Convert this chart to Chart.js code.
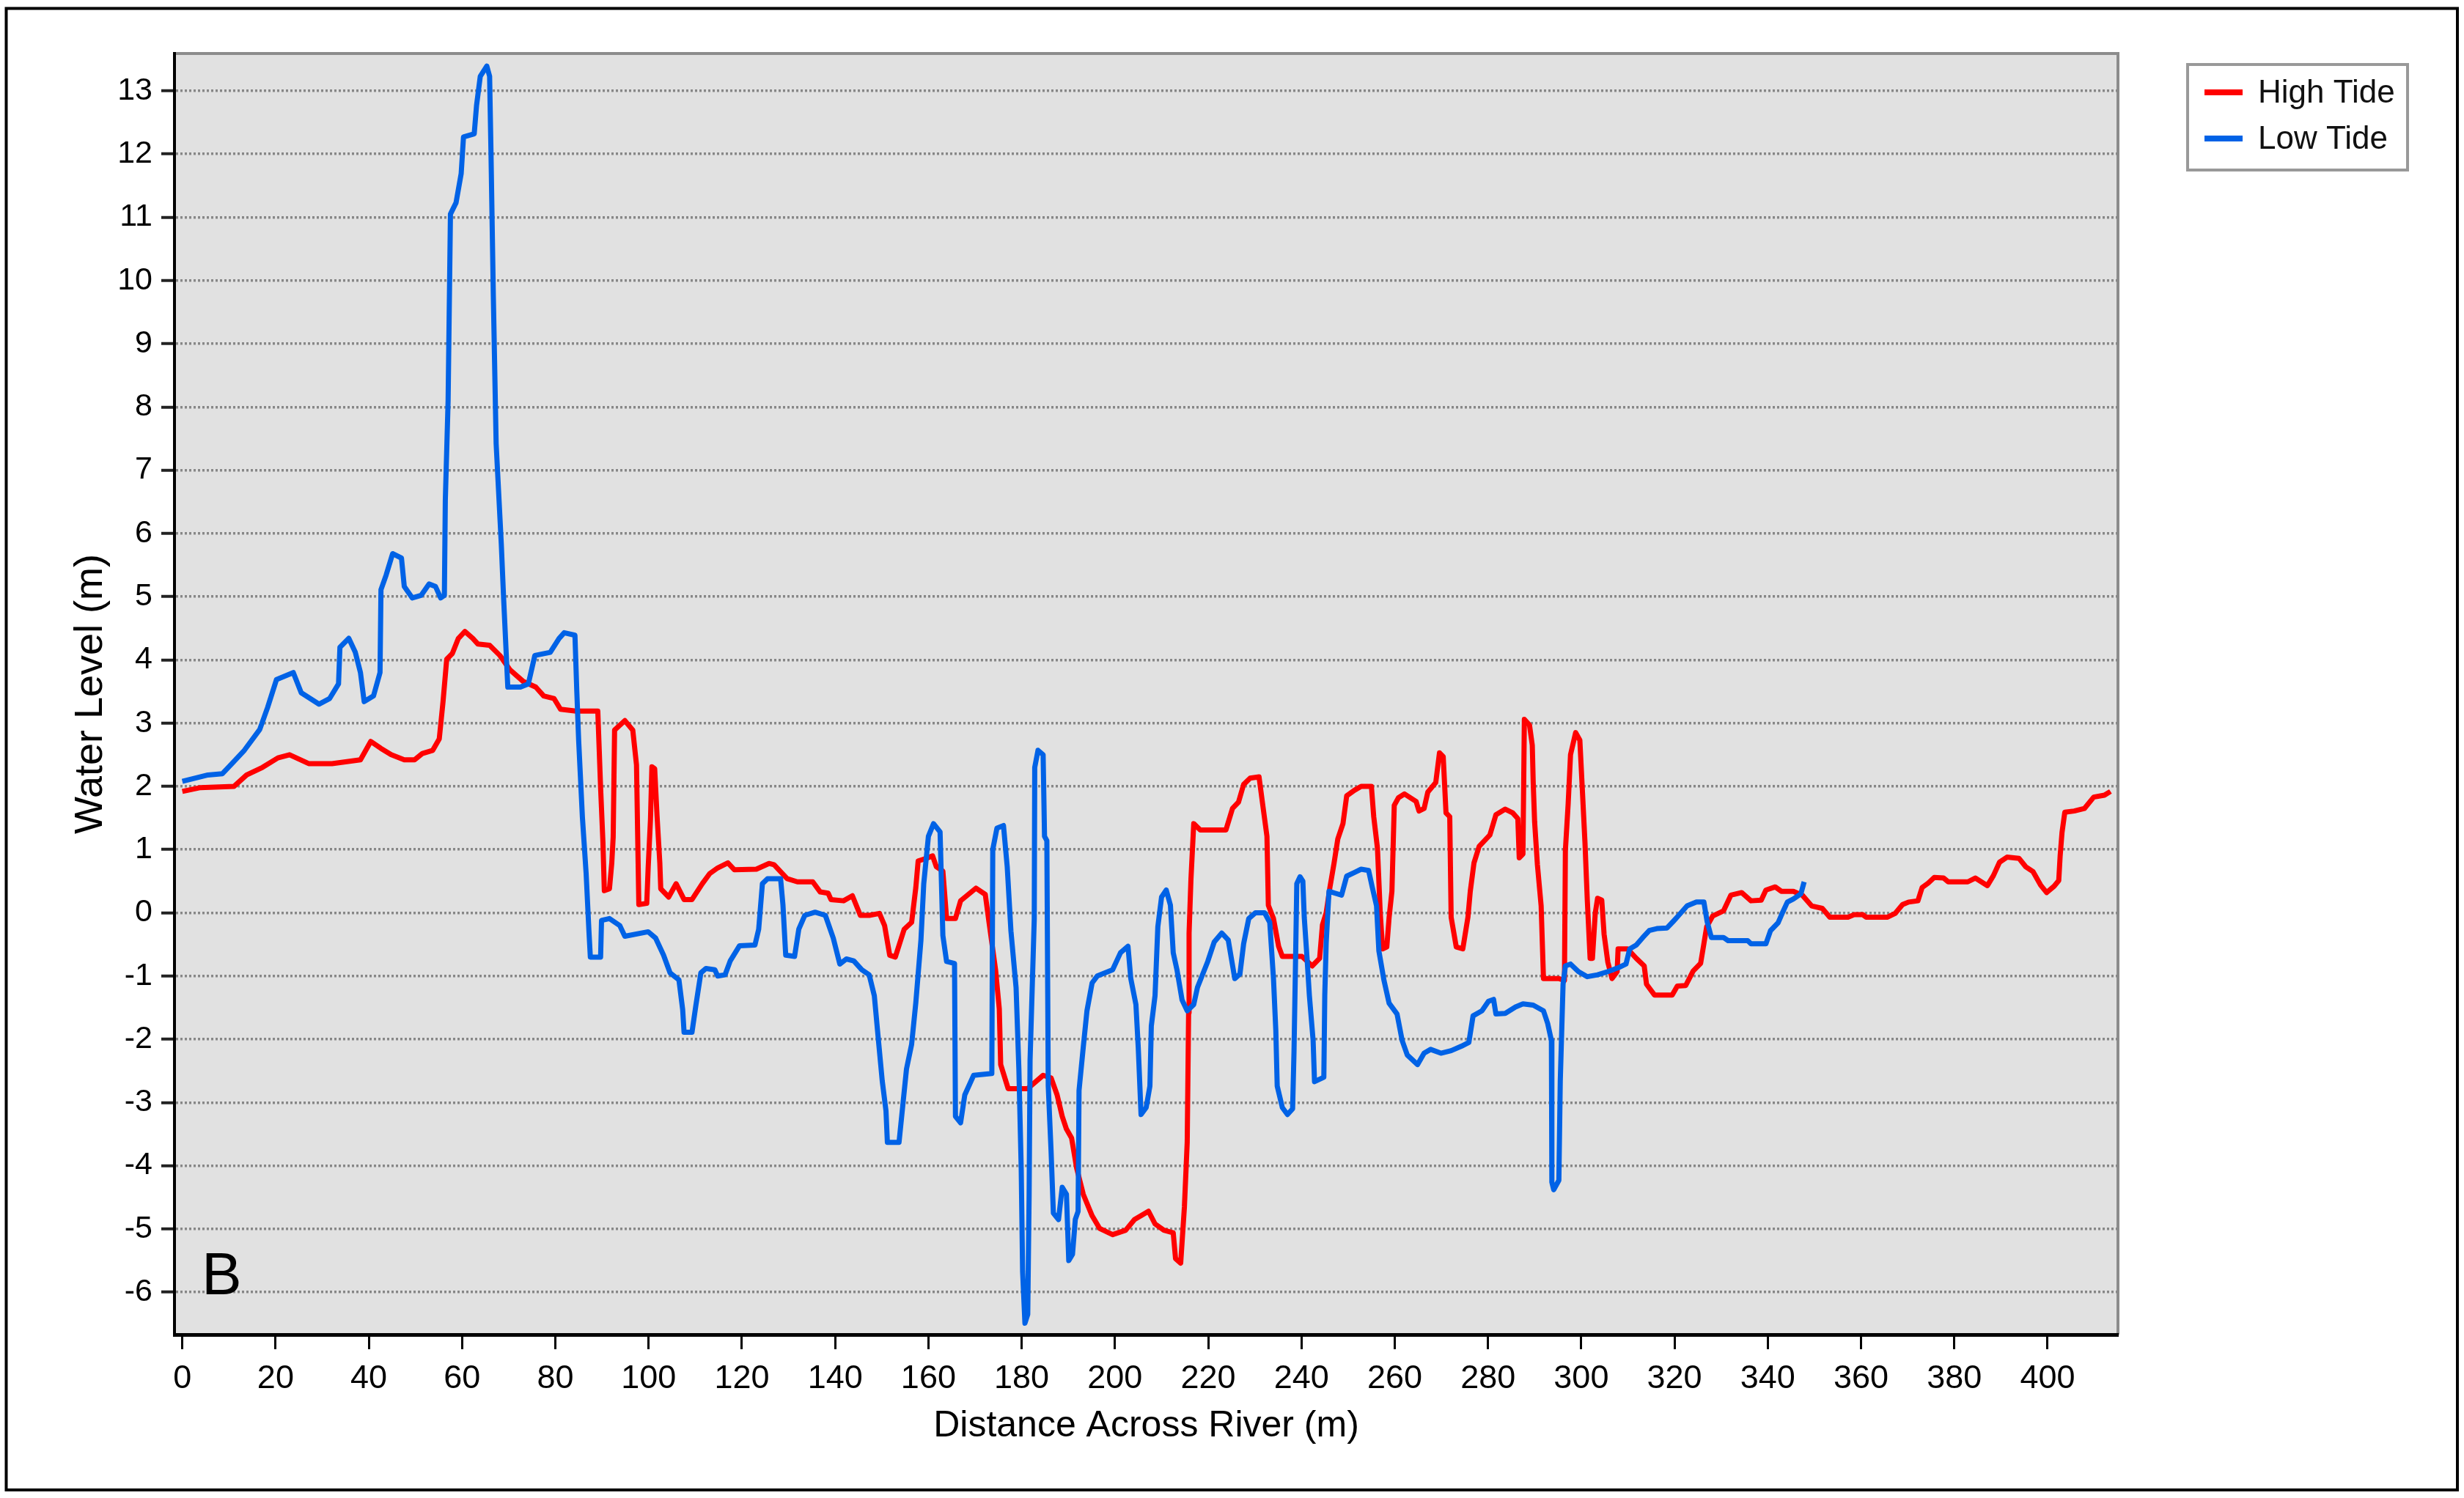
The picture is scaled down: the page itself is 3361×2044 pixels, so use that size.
<!DOCTYPE html>
<html>
<head>
<meta charset="utf-8">
<title>Water Level Across River</title>
<script src="https://cdn.jsdelivr.net/npm/chart.js@4.4.1/dist/chart.umd.min.js"></script>
<style>
    html, body { margin: 0; padding: 0; background: #fff; }
    canvas { display: block; }
</style>
</head>
<body>
<canvas id="chart" width="3361" height="2044"></canvas>
<script>
// distance across the river (m) and water level (m)
const highTideDistance = [
    0, 3.9, 11.1, 13.8, 17.2, 20.5, 23, 27.1, 32.1, 38.2,
    40.4, 42.6, 44.8, 47.6, 49.8, 51.5, 53.7, 55.1, 55.9, 56.7,
    57.9, 59.2, 60.6, 62.3, 63.4, 65.9, 68.1, 70.3, 73.1, 75.8,
    77.5, 79.7, 81.1, 84.4, 89.1, 89.7, 90.2, 90.5, 91.6, 92.1,
    92.4, 92.7, 94.9, 96.6, 97.4, 97.9, 99.6, 99.9, 100.4, 100.7,
    101.3, 101.8, 102.4, 102.6, 104.3, 105.9, 107.6, 109.3, 111.5, 113.1,
    114.8, 117, 118.4, 123.1, 125.8, 126.9, 129.7, 131.9, 135.2, 136.8,
    138.5, 139.1, 141.8, 143.7, 145.4, 147.3, 149.5, 150.6, 151.7, 152.9,
    154.8, 156.4, 157.3, 157.8, 159.5, 160.9, 161.7, 163.1, 163.9, 165.8,
    166.9, 170.2, 172.2, 173, 174.4, 175.2, 175.5, 177.1, 181.3, 184.6,
    186.3, 187.6, 188.7, 189.6, 190.7, 191.8, 193.2, 195.1, 196.7, 199.5,
    202.3, 204.2, 207.2, 208.6, 210.5, 212.5, 213, 214.1, 214.9, 215.5,
    215.8, 215.9, 216.3, 216.9, 218.3, 223.8, 225.2, 226.5, 227.6, 229,
    230.9, 231.8, 232.6, 232.9, 234, 235.1, 235.9, 240.1, 242.3, 243.9,
    244.5, 245.3, 246.1, 247, 247.8, 248.9, 249.7, 251.4, 252.8, 255,
    255.5, 256.3, 256.9, 257.4, 258.3, 258.8, 259.4, 259.9, 260.8, 262.1,
    264.6, 265.2, 266.3, 267.1, 268.8, 269.6, 270.4, 271, 271.8, 272.1,
    273.2, 274.6, 275.7, 276.2, 277, 278.1, 280.4, 281.7, 283.7, 285.3,
    286.4, 286.7, 287.5, 287.8, 288.9, 289.5, 289.7, 290, 290.6, 291.4,
    291.9, 295.2, 296.4, 296.6, 297.2, 297.7, 298.8, 299.7, 300.2, 300.8,
    301.3, 301.9, 302.4, 303, 303.5, 304.4, 304.9, 305.7, 306.6, 307.7,
    307.9, 309.9, 311.8, 313.5, 314, 315.7, 319.5, 320.6, 322.4, 324,
    325.6, 326.3, 326.9, 328.2, 330.5, 332.1, 334.4, 336.4, 338.6, 339.6,
    341.6, 342.9, 345.5, 347.4, 349.4, 351.7, 353.3, 357.2, 358.5, 360.4,
    361.1, 365.6, 367.3, 368.9, 370.2, 372.2, 373.1, 374.4, 375.7, 377.7,
    378.7, 382.9, 384.5, 385.8, 387.1, 388.4, 389.7, 391.3, 393.9, 395.3,
    396.9, 398.5, 399.8, 401.4, 402.4, 402.7, 403.1, 403.7, 405.7, 407.9,
    409.9, 412.2, 413.5
];
const highTideLevel = [
    1.92, 1.98, 2.0, 2.18, 2.3, 2.45, 2.5, 2.36, 2.36, 2.42,
    2.71, 2.6, 2.5, 2.42, 2.42, 2.52, 2.57, 2.75, 3.33, 4.01,
    4.1, 4.34, 4.45, 4.34, 4.25, 4.23, 4.07, 3.84, 3.66, 3.57,
    3.43, 3.39, 3.22, 3.19, 3.19, 1.98, 1.12, 0.35, 0.38, 0.79,
    1.2, 2.89, 3.04, 2.89, 2.34, 0.13, 0.15, 0.71, 1.48, 2.31,
    2.28, 1.54, 0.79, 0.38, 0.25, 0.46, 0.21, 0.21, 0.46, 0.62,
    0.71, 0.79, 0.68, 0.69, 0.78, 0.76, 0.54, 0.49, 0.49, 0.33,
    0.31, 0.21, 0.19, 0.27, -0.04, -0.04, -0.01, -0.2, -0.67, -0.7,
    -0.26, -0.15, 0.4, 0.82, 0.86, 0.9, 0.73, 0.66, -0.09, -0.09,
    0.19, 0.39, 0.29, -0.15, -0.9, -1.52, -2.4, -2.78, -2.78, -2.57,
    -2.61, -2.88, -3.22, -3.42, -3.56, -4.04, -4.45, -4.79, -4.99, -5.09,
    -5.02, -4.85, -4.72, -4.92, -5.02, -5.06, -5.47, -5.54, -4.65, -3.63,
    -1.58, -0.32, 0.53, 1.41, 1.31, 1.31, 1.65, 1.75, 2.03, 2.13,
    2.15, 1.65, 1.21, 0.12, -0.09, -0.53, -0.69, -0.69, -0.84, -0.72,
    -0.19, 0.0, 0.4, 0.79, 1.17, 1.41, 1.85, 1.94, 2.0, 2.0,
    1.52, 1.02, -0.01, -0.57, -0.54, -0.07, 0.34, 1.7, 1.82, 1.88,
    1.76, 1.61, 1.65, 1.91, 2.06, 2.53, 2.47, 1.58, 1.52, -0.07,
    -0.54, -0.57, -0.07, 0.34, 0.79, 1.05, 1.23, 1.55, 1.64, 1.58,
    1.49, 0.87, 0.93, 3.06, 2.97, 2.65, 2.06, 1.44, 0.76, 0.11,
    -1.04, -1.04, -1.07, 0.99, 1.73, 2.5, 2.85, 2.73, 2.0, 1.11,
    0.2, -0.72, -0.72, -0.01, 0.23, 0.2, -0.34, -0.78, -1.04, -0.93,
    -0.57, -0.57, -0.72, -0.84, -1.13, -1.3, -1.3, -1.16, -1.15, -0.92,
    -0.8, -0.49, -0.22, -0.05, 0.03, 0.28, 0.32, 0.19, 0.2, 0.36,
    0.41, 0.34, 0.34, 0.28, 0.11, 0.07, -0.07, -0.07, -0.03, -0.03,
    -0.07, -0.07, -0.01, 0.13, 0.17, 0.19, 0.4, 0.47, 0.56, 0.55,
    0.49, 0.49, 0.55, 0.49, 0.43, 0.59, 0.8, 0.88, 0.86, 0.73,
    0.65, 0.44, 0.32, 0.42, 0.51, 0.9, 1.27, 1.59, 1.61, 1.65,
    1.83, 1.86, 1.92
];

const lowTideDistance = [
    0, 5.5, 8.6, 10.5, 13.3, 16.6, 18.3, 20.2, 23.8, 25.5,
    29.3, 31.6, 33.5, 33.8, 35.7, 37.1, 38.2, 39, 41, 42.4,
    42.6, 43.7, 45.1, 47, 47.6, 49.3, 51.2, 52.9, 54.3, 55.4,
    56.2, 56.4, 57, 57.5, 58.7, 59.8, 60.3, 62.6, 63.1, 63.9,
    65.3, 65.9, 66.2, 66.7, 67.3, 68.4, 68.9, 69.8, 72.5, 74.2,
    75.6, 78.9, 80.8, 81.9, 84.2, 84.6, 85, 85.8, 86.6, 87.2,
    87.5, 89.7, 89.9, 91.6, 93.8, 94.9, 99.9, 101.5, 103.2, 104.6,
    106.5, 107.3, 107.6, 109.3, 110.1, 111.2, 112.3, 114.2, 114.8, 116.4,
    117.5, 119.5, 122.8, 123.6, 124.4, 125.5, 128.3, 128.8, 129.4, 131.3,
    132.2, 133.5, 135.7, 137.9, 139.6, 141, 142.4, 144, 145.7, 147.3,
    148.4, 149.3, 150.1, 150.9, 151.2, 153.7, 154.5, 155.3, 156.4, 157.3,
    158.4, 159, 160, 161.1, 162.5, 162.8, 163.1, 163.9, 165.6, 165.8,
    166.9, 167.8, 169.7, 173.6, 173.8, 174.7, 176.1, 176.9, 177.7, 178.8,
    179.4, 179.9, 180.2, 180.7, 181.3, 181.6, 181.8, 182.7, 182.8, 183.5,
    184.6, 184.9, 185.4, 185.7, 186.3, 186.8, 187.9, 188.7, 189.6, 190.1,
    190.9, 191.5, 192.1, 192.3, 193.2, 194, 195.1, 196.2, 199.5, 201.2,
    202.8, 203.4, 204.5, 205, 205.6, 206.7, 207.5, 207.8, 208.6, 209.2,
    210, 211, 211.9, 212.5, 213.3, 214.4, 215.5, 216.9, 217.7, 219.9,
    221.3, 222.9, 224.3, 225.7, 226.8, 227.6, 228.7, 230.1, 232.1, 233.2,
    234, 234.5, 234.8, 235.9, 237, 238.1, 238.4, 238.7, 239, 239.7,
    240.3, 240.6, 241.2, 241.7, 242.5, 242.8, 244.8, 245, 245.3, 245.9,
    247.2, 248.6, 249.7, 251.4, 252.8, 254.4, 255.2, 256.1, 256.6, 257.7,
    258.8, 260.5, 261.6, 262.7, 264.9, 266.3, 267.7, 269.9, 272.1, 274.3,
    275.9, 276.8, 278.7, 280.1, 281.2, 281.7, 283.7, 285.9, 287.5, 289.7,
    291.9, 292.8, 293.6, 293.7, 294.1, 295.2, 295.5, 296.1, 296.6, 297.7,
    299.4, 301.3, 303.5, 305.7, 307.9, 309.6, 310.4, 311.8, 313.2, 314.6,
    316.2, 318.4, 319.8, 320.9, 322.7, 324.7, 326.3, 327, 327.9, 330.5,
    331.5, 335.7, 336.4, 339.6, 340.6, 342.2, 343.2, 344.2, 345.5, 347.1,
    347.8
];
const lowTideLevel = [
    2.08, 2.18, 2.2, 2.35, 2.57, 2.9, 3.25, 3.69, 3.8, 3.48,
    3.3, 3.39, 3.62, 4.2, 4.34, 4.12, 3.8, 3.34, 3.43, 3.8,
    5.11, 5.34, 5.68, 5.61, 5.16, 4.98, 5.02, 5.2, 5.16, 4.98,
    5.02, 6.52, 8.1, 11.05, 11.23, 11.69, 12.27, 12.32, 12.77, 13.23,
    13.39, 13.23, 12.0, 9.74, 7.42, 5.84, 4.98, 3.57, 3.57, 3.62,
    4.07, 4.12, 4.34, 4.43, 4.39, 3.5, 2.72, 1.51, 0.62, -0.29,
    -0.7, -0.7, -0.12, -0.09, -0.2, -0.37, -0.3, -0.4, -0.67, -0.95,
    -1.06, -1.53, -1.89, -1.89, -1.48, -0.95, -0.88, -0.9, -1.0, -0.98,
    -0.76, -0.52, -0.51, -0.26, 0.46, 0.54, 0.54, 0.13, -0.67, -0.69,
    -0.26, -0.04, 0.01, -0.04, -0.4, -0.81, -0.73, -0.76, -0.9, -0.98,
    -1.31, -2.03, -2.66, -3.13, -3.63, -3.63, -3.05, -2.47, -2.08, -1.42,
    -0.43, 0.46, 1.21, 1.41, 1.28, 0.46, -0.36, -0.77, -0.8, -3.22,
    -3.32, -2.88, -2.57, -2.54, 1.0, 1.34, 1.38, 0.73, -0.29, -1.18,
    -2.47, -4.04, -5.67, -6.49, -6.35, -4.45, -2.33, -0.09, 2.3, 2.57,
    2.5, 1.21, 1.14, -2.74, -3.76, -4.75, -4.85, -4.34, -4.45, -5.5,
    -5.4, -4.85, -4.72, -2.81, -2.13, -1.55, -1.11, -1.0, -0.9, -0.63,
    -0.53, -1.04, -1.45, -2.13, -3.19, -3.08, -2.74, -1.79, -1.31, -0.22,
    0.25, 0.36, 0.12, -0.63, -0.9, -1.38, -1.55, -1.45, -1.18, -0.77,
    -0.46, -0.32, -0.43, -1.04, -0.97, -0.49, -0.09, 0.0, 0.0, -0.15,
    -1.04, -1.86, -2.74, -3.08, -3.19, -3.1, -2.2, -0.9, 0.46, 0.57,
    0.5, -0.07, -0.72, -1.31, -2.02, -2.67, -2.6, -1.31, -0.48, 0.34,
    0.31, 0.28, 0.58, 0.64, 0.69, 0.67, 0.4, 0.11, -0.6, -1.07,
    -1.43, -1.6, -2.02, -2.25, -2.4, -2.22, -2.16, -2.22, -2.18, -2.11,
    -2.05, -1.63, -1.55, -1.4, -1.37, -1.6, -1.59, -1.49, -1.44, -1.46,
    -1.55, -1.75, -2.02, -4.26, -4.38, -4.23, -2.67, -1.13, -0.84, -0.81,
    -0.93, -1.01, -0.98, -0.93, -0.87, -0.81, -0.57, -0.51, -0.39, -0.28,
    -0.25, -0.24, -0.13, -0.04, 0.11, 0.17, 0.17, -0.14, -0.39, -0.39,
    -0.44, -0.44, -0.49, -0.49, -0.28, -0.16, 0.01, 0.17, 0.22, 0.3,
    0.49
];

const xTicks = [0, 20, 40, 60, 80, 100, 120, 140, 160, 180, 200, 220, 240, 260, 280, 300, 320, 340, 360, 380, 400];
const yTicks = [-6, -5, -4, -3, -2, -1, 0, 1, 2, 3, 4, 5, 6, 7, 8, 9, 10, 11, 12, 13];

const textFont = '"Liberation Sans", Arial, sans-serif';

function toPoints(xs, ys) {
    const points = [];
    for (let i = 0; i < xs.length; i++) {
        points.push({ x: xs[i], y: ys[i] });
    }
    return points;
}

// plot background, frame, panel letter and the boxed legend
const decorations = {
    id: 'decorations',
    beforeDraw(chart) {
        const { ctx, chartArea } = chart;
        ctx.save();
        ctx.fillStyle = '#ffffff';
        ctx.fillRect(0, 0, chart.width, chart.height);
        ctx.fillStyle = '#e1e1e1';
        ctx.fillRect(chartArea.left, chartArea.top, chartArea.right - chartArea.left, chartArea.bottom - chartArea.top);
        ctx.strokeStyle = '#8c8c8c';
        ctx.lineWidth = 4;
        ctx.beginPath();
        ctx.moveTo(chartArea.left, chartArea.top);
        ctx.lineTo(chartArea.right, chartArea.top);
        ctx.lineTo(chartArea.right, chartArea.bottom);
        ctx.stroke();
        ctx.restore();
    },
    afterDraw(chart) {
        const { ctx, chartArea } = chart;
        ctx.save();

        ctx.strokeStyle = '#000';
        ctx.lineWidth = 4;
        ctx.strokeRect(8.5, 11.5, 3343.5, 2021.5);

        ctx.fillStyle = '#000';
        ctx.font = '82px ' + textFont;
        ctx.textBaseline = 'alphabetic';
        ctx.fillText('B', chartArea.left + 37, chartArea.bottom - 55);

        const boxLeft = 2984;
        const boxTop = 88;
        ctx.fillStyle = '#fff';
        ctx.fillRect(boxLeft, boxTop, 300, 144);
        ctx.strokeStyle = '#999';
        ctx.lineWidth = 4;
        ctx.strokeRect(boxLeft, boxTop, 300, 144);

        chart.data.datasets.forEach((ds, i) => {
            const cy = boxTop + 38 + i * 63;
            ctx.strokeStyle = ds.borderColor;
            ctx.lineWidth = 8;
            ctx.beginPath();
            ctx.moveTo(boxLeft + 23, cy);
            ctx.lineTo(boxLeft + 75, cy);
            ctx.stroke();
            ctx.fillStyle = '#111';
            ctx.font = '44px ' + textFont;
            ctx.textBaseline = 'middle';
            ctx.fillText(ds.label, boxLeft + 96, cy + 2);
        });
        ctx.restore();
    }
};

new Chart(document.getElementById('chart'), {
    type: 'scatter',
    data: {
        datasets: [{
            label: 'High Tide',
            data: toPoints(highTideDistance, highTideLevel),
            showLine: true,
            borderColor: '#ff0000',
            borderWidth: 7,
            borderJoinStyle: 'round',
            pointRadius: 0,
            order: 2
        }, {
            label: 'Low Tide',
            data: toPoints(lowTideDistance, lowTideLevel),
            showLine: true,
            borderColor: '#0062e6',
            borderWidth: 7,
            borderJoinStyle: 'round',
            pointRadius: 0,
            order: 1
        }]
    },
    options: {
        responsive: false,
        animation: false,
        devicePixelRatio: 1,
        layout: { padding: { top: 73, right: 472, bottom: 0, left: 0 } },
        plugins: {
            legend: { display: false },
            tooltip: { enabled: false }
        },
        scales: {
            x: {
                type: 'linear',
                min: -1.68,
                max: 415.1,
                afterBuildTicks: axis => { axis.ticks = xTicks.map(v => ({ value: v })); },
                afterFit: axis => { axis.height = 223; },
                border: { color: '#000', width: 5 },
                grid: {
                    drawOnChartArea: false,
                    drawTicks: true,
                    tickLength: 20,
                    tickColor: '#000',
                    tickWidth: 3,
                    tickBorderDash: []
                },
                ticks: {
                    autoSkip: false,
                    maxRotation: 0,
                    padding: 14,
                    color: '#000',
                    font: { family: textFont, size: 45 }
                },
                title: {
                    display: true,
                    text: 'Distance Across River (m)',
                    color: '#000',
                    font: { family: textFont, size: 50 },
                    padding: { top: 0, bottom: 68 }
                }
            },
            y: {
                type: 'linear',
                min: -6.67,
                max: 13.59,
                afterBuildTicks: axis => { axis.ticks = yTicks.map(v => ({ value: v })); },
                afterFit: axis => { axis.width = 238; },
                border: { color: '#000', width: 4, dash: [3, 3] },
                grid: {
                    color: '#878787',
                    lineWidth: 3.5,
                    drawTicks: true,
                    tickLength: 18,
                    tickColor: '#222',
                    tickWidth: 4,
                    tickBorderDash: []
                },
                ticks: {
                    autoSkip: false,
                    padding: 12,
                    color: '#000',
                    font: { family: textFont, size: 43 }
                },
                title: {
                    display: true,
                    text: 'Water Level (m)',
                    color: '#000',
                    font: { family: textFont, size: 54 },
                    padding: { top: 92, bottom: 0 }
                }
            }
        }
    },
    plugins: [decorations]
});
</script>
</body>
</html>
